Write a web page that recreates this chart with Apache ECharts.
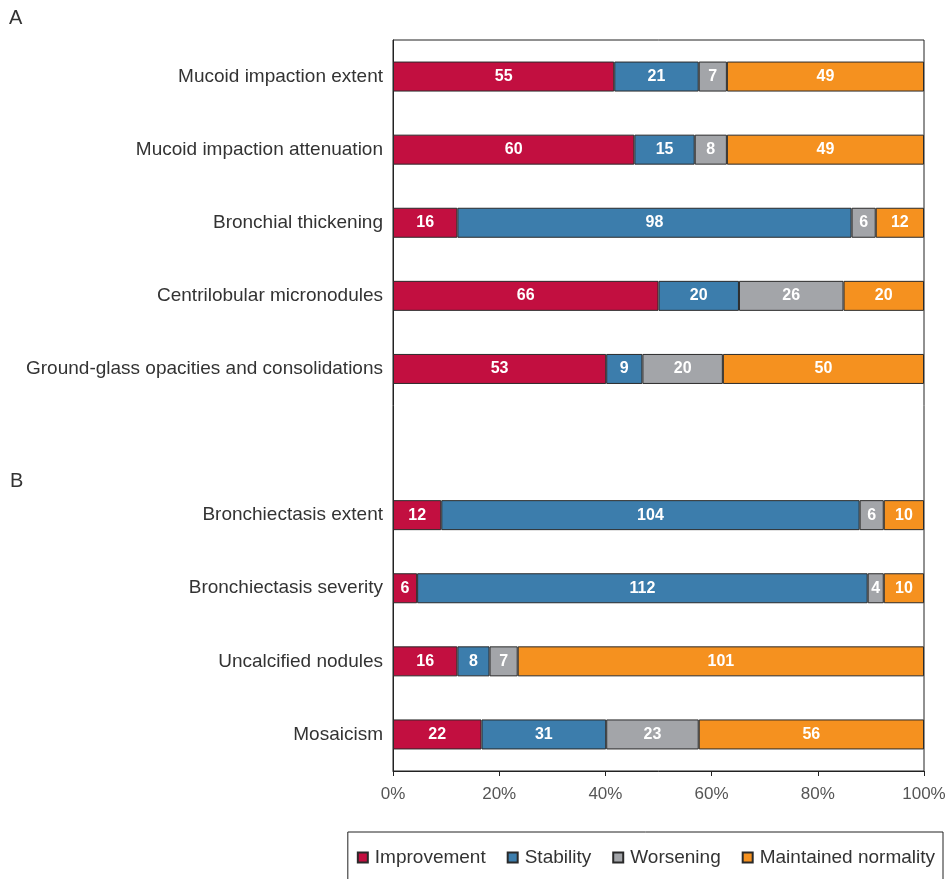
<!DOCTYPE html>
<html>
<head>
<meta charset="utf-8">
<script src="https://cdn.jsdelivr.net/npm/echarts@6/dist/echarts.min.js"></script>
<style>
html,body{margin:0;padding:0;background:#fff;}
#chart{width:952px;height:879px;}
</style>
</head>
<body>
<div id="chart"></div>
<script>
const categories = [
  'Mucoid impaction extent',
  'Mucoid impaction attenuation',
  'Bronchial thickening',
  'Centrilobular micronodules',
  'Ground-glass opacities and consolidations',
  '',
  'Bronchiectasis extent',
  'Bronchiectasis severity',
  'Uncalcified nodules',
  'Mosaicism'
];
const improvement = [55, 60, 16, 66, 53, null, 12, 6, 16, 22];
const stability   = [21, 15, 98, 20, 9, null, 104, 112, 8, 31];
const worsening   = [7, 8, 6, 26, 20, null, 6, 4, 7, 23];
const maintained  = [49, 49, 12, 20, 50, null, 10, 10, 101, 56];
const seriesNames = ['Improvement', 'Stability', 'Worsening', 'Maintained normality'];
const seriesColors = ['#C20F40', '#3C7DAC', '#A3A5A9', '#F5911F'];
const xTicks = [0, 20, 40, 60, 80, 100];

const FONT = 'Liberation Sans, Arial, sans-serif';
const all = [improvement, stability, worsening, maintained];
const totals = categories.map((c, i) => all.reduce((s, a) => s + (a[i] || 0), 0));

const chart = echarts.init(document.getElementById('chart'));
const series = all.map((arr, k) => ({
  name: seriesNames[k],
  type: 'bar',
  stack: 'total',
  barWidth: 30,
  itemStyle: { color: seriesColors[k], borderColor: '#2a2a2a', borderWidth: 1 },
  label: {
    show: true,
    position: 'inside',
    color: '#fff',
    fontFamily: FONT,
    fontSize: 16,
    fontWeight: 'bold',
    formatter: p => arr[p.dataIndex]
  },
  data: arr.map((v, i) => v == null ? null : v / totals[i] * 100)
}));

chart.setOption({
  animation: false,
  backgroundColor: '#fff',
  textStyle: { fontFamily: FONT },
  grid: {
    left: 393, right: 28, top: 40, bottom: 108,
    show: true, borderColor: '#222', borderWidth: 1, backgroundColor: 'transparent'
  },
  xAxis: {
    type: 'value',
    min: xTicks[0], max: xTicks[xTicks.length - 1], interval: 20,
    axisLine: { show: true, lineStyle: { color: '#222', width: 1 } },
    axisTick: { show: true, length: 5, lineStyle: { color: '#222' } },
    splitLine: { show: false },
    axisLabel: { formatter: '{value}%', color: '#555', fontSize: 17, margin: 15 }
  },
  yAxis: {
    type: 'category',
    inverse: true,
    data: categories,
    axisLine: { show: true, lineStyle: { color: '#222' } },
    axisTick: { show: false },
    axisLabel: { color: '#333', fontSize: 19, margin: 10 }
  },
  legend: {
    data: seriesNames,
    right: 9,
    top: 832,
    orient: 'horizontal',
    icon: 'rect',
    itemWidth: 10,
    itemHeight: 10,
    itemGap: 21,
    borderColor: '#222',
    borderWidth: 1,
    padding: [16, 8, 20, 9],
    textStyle: { color: '#333', fontSize: 19, padding: [0, 0, 0, 2] }
  },
  graphic: [
    { type: 'text', left: 9, top: 8, style: { text: 'A', fontSize: 20, fill: '#333', fontFamily: FONT } },
    { type: 'text', left: 10, top: 471, style: { text: 'B', fontSize: 20, fill: '#333', fontFamily: FONT } }
  ],
  series: series
});
</script>
</body>
</html>
